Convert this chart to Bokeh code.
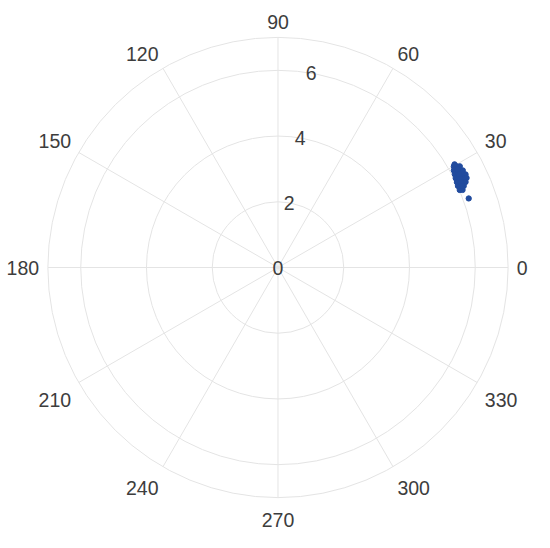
import numpy as np
from bokeh.plotting import figure
from bokeh.models import Range1d
from bokeh.core.properties import value
from bokeh.embed import file_html
from bokeh.resources import INLINE

# ---- data ----
theta_deg = [29.9, 29.5, 29.1, 28.9, 28.5, 28.1, 27.7, 27.8, 27.4, 27.0, 26.7, 26.4,
             26.7, 26.3, 25.9, 25.6, 25.4, 25.5, 25.2, 24.8, 24.5, 24.4, 24.1, 23.7,
             23.1, 22.8, 30.3, 28.7, 27.2, 26.0, 24.9, 23.9, 19.9]
r_vals = [6.17, 6.25, 6.33, 6.11, 6.19, 6.27, 6.35, 6.08, 6.16, 6.24, 6.32, 6.37,
          6.05, 6.13, 6.21, 6.29, 6.35, 6.03, 6.11, 6.19, 6.27, 6.01, 6.09, 6.17,
          6.01, 6.09, 6.22, 6.23, 6.20, 6.17, 6.14, 6.12, 6.17]

angle_ticks = [0, 30, 60, 90, 120, 150, 180, 210, 240, 270, 300, 330]
angle_labels = ["0", "30", "60", "90", "120", "150", "180", "210", "240", "270", "300", "330"]
radial_ticks = [0, 2, 4, 6]
radial_labels = ["0", "2", "4", "6"]
r_max = 7.0

# ---- styles / layout ----
W, H = 534, 532
k = W / 550.0                       # fit the 550x548 design into the window
cx, cy = 285.8 * k, 267.0
scale = 33.86 * k
grid_color = "#e4e4e4"
text_color = "#3d3d3d"
point_color = "#214b9e"
font = value("Liberation Sans")
fsize = "19.5px"

p = figure(width=W, height=H, output_backend="svg", toolbar_location=None,
           x_range=Range1d(-cx / scale, (W - cx) / scale),
           y_range=Range1d(-(H - cy) / scale, cy / scale),
           min_border=0, tools="")
p.axis.visible = False
p.grid.visible = False
p.outline_line_color = None
p.background_fill_color = "white"

# circles
circ_r = [t for t in radial_ticks if t > 0] + [r_max]
p.circle(x=[0] * len(circ_r), y=[0] * len(circ_r), radius=circ_r,
         fill_color=None, line_color=grid_color, line_width=1)

# spokes
th = np.deg2rad(angle_ticks)
p.segment(x0=[0] * len(th), y0=[0] * len(th),
          x1=list(r_max * np.cos(th)), y1=list(r_max * np.sin(th)),
          line_color=grid_color, line_width=1)

# data points
tr = np.deg2rad(theta_deg)
rv = np.array(r_vals)
p.scatter(x=list(rv * np.cos(tr)), y=list(rv * np.sin(tr)), size=5.3,
          fill_color=point_color, line_color=point_color)

# angle labels
R_lab = r_max + 9 * k / scale
for ang, lab in zip(angle_ticks, angle_labels):
    a = np.deg2rad(ang)
    c, s = np.cos(a), np.sin(a)
    align = "left" if c > 0.1 else ("right" if c < -0.1 else "center")
    if s > 0.1:
        base, yoff = "bottom", 0
    elif s < -0.1:
        base, yoff = "top", 6.5 * k
    else:
        base, yoff = "middle", 0
    p.text(x=[R_lab * c], y=[R_lab * s], text=[lab], text_align=align,
           text_baseline=base, y_offset=yoff, text_font=font,
           text_font_size=fsize, text_color=text_color)

# radial labels
ra = np.deg2rad(80.3)
p.text(x=[t * np.cos(ra) for t in radial_ticks], y=[t * np.sin(ra) for t in radial_ticks],
       text=radial_labels, text_align="center", text_baseline="middle",
       text_font=font, text_font_size=fsize, text_color=text_color)

open("out.html", "w").write(file_html(p, INLINE))
